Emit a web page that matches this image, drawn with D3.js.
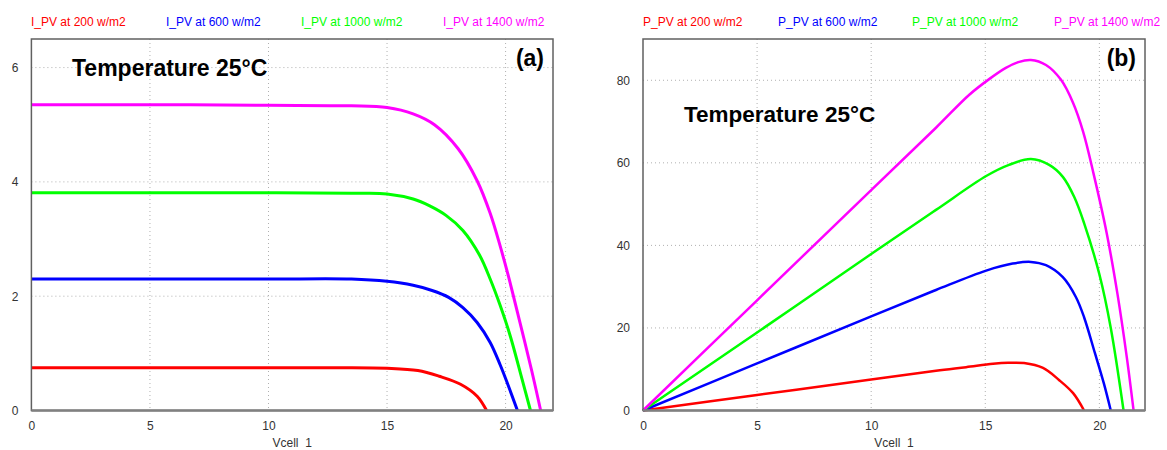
<!DOCTYPE html>
<html>
<head>
<meta charset="utf-8">
<script src="https://cdn.jsdelivr.net/npm/d3@7"></script>
<style>
  body { margin: 0; background: #fff; }
  text { font-family: "Liberation Sans", Arial, sans-serif; }
</style>
</head>
<body>
<div id="chart"></div>
<script>
// I-V curves (Vcell, I_PV)
var ivRed200 = [[0,0.75],[5,0.75],[10,0.75],[13,0.75],[15,0.74],[16.3,0.70],[17.2,0.60],[18.1,0.46],[18.8,0.25],[19.2,0]];
var ivBlue600 = [[0,2.30],[5,2.30],[10,2.30],[13.5,2.30],[15,2.26],[16.1,2.19],[16.9,2.10],[17.6,1.98],[18.2,1.80],[18.8,1.54],[19.35,1.19],[19.77,0.80],[20.1,0.45],[20.5,0]];
var ivGreen1000 = [[0,3.81],[5,3.81],[10,3.81],[13.5,3.80],[15,3.79],[16.1,3.70],[16.8,3.58],[17.5,3.41],[18.2,3.15],[18.9,2.72],[19.35,2.30],[19.77,1.84],[20.2,1.30],[20.7,0.54],[21.05,0]];
var ivMag1400 = [[0,5.35],[5,5.35],[10,5.34],[13.5,5.33],[15,5.30],[16.1,5.19],[17.0,5.0],[18.0,4.58],[18.8,4.02],[19.35,3.45],[19.77,2.88],[20.1,2.38],[20.6,1.55],[21.1,0.70],[21.48,0]];

// P-V curves (Vcell, P_PV)
var pvRed200 = [[0,0],[5,3.75],[10,7.5],[12.84,9.65],[14.16,10.5],[15.34,11.3],[16.0,11.55],[16.7,11.5],[17.53,10.3],[18.23,7.4],[18.85,4.2],[19.33,0]];
var pvBlue600 = [[0,0],[5,11.4],[10,22.8],[12.84,29.2],[15.04,33.9],[16.2,35.6],[17.0,36.0],[17.66,35.2],[18.4,32.3],[18.97,27.5],[19.33,22.6],[19.8,14],[20.2,6.5],[20.5,0]];
var pvGreen1000 = [[0,0],[5,18.9],[10,37.9],[12.84,48.6],[15.04,56.8],[16.04,59.5],[17.0,60.9],[17.8,59.5],[18.4,56.6],[18.9,51.7],[19.33,45.4],[20.0,33],[20.5,20],[21.06,0]];
var pvMag1400 = [[0,0],[5,26.7],[10,53.4],[12.84,68.5],[14.3,76.5],[15.2,80.4],[15.9,83.0],[16.45,84.4],[17.0,84.9],[17.66,83.7],[18.32,80.1],[18.85,74.5],[19.29,67.5],[19.74,57.5],[20.32,43],[20.8,28],[21.2,13],[21.5,0]];

var colors = ["#ff0000", "#0000ff", "#00ff00", "#ff00ff"];
var ivLabels = ["I_PV at 200 w/m2", "I_PV at 600 w/m2", "I_PV at 1000 w/m2", "I_PV at 1400 w/m2"];
var pvLabels = ["P_PV at 200 w/m2", "P_PV at 600 w/m2", "P_PV at 1000 w/m2", "P_PV at 1400 w/m2"];
var xTicks = [0, 5, 10, 15, 20];
var ivTicks = [0, 2, 4, 6];
var pvTicks = [0, 20, 40, 60, 80];

var svg = d3.select("#chart").append("svg")
    .attr("width", 1167)
    .attr("height", 450);

function panel(opt) {
  var x = d3.scaleLinear().domain([0, 22]).range([opt.left, opt.right]);
  var y = d3.scaleLinear().domain(opt.ydomain).range([410.5, 39]);
  var g = svg.append("g");

  // grid
  g.selectAll(".vg").data(xTicks.slice(1))
    .enter().append("line")
      .attr("x1", function(d) { return x(d); })
      .attr("x2", function(d) { return x(d); })
      .attr("y1", y.range()[1]).attr("y2", y.range()[0])
      .style("stroke", "#b0b0b0").style("stroke-dasharray", "1,3");
  g.selectAll(".hg").data(opt.yticks.slice(1))
    .enter().append("line")
      .attr("x1", opt.left).attr("x2", opt.right)
      .attr("y1", function(d) { return y(d); })
      .attr("y2", function(d) { return y(d); })
      .style("stroke", "#b0b0b0").style("stroke-dasharray", "1,3");

  // curves
  var line = d3.line()
      .x(function(d) { return x(d[0]); })
      .y(function(d) { return y(d[1]); })
      .curve(d3.curveCatmullRom.alpha(0.5));
  g.selectAll(".curve").data(opt.series)
    .enter().append("path")
      .attr("d", line)
      .style("fill", "none")
      .style("stroke", function(d, i) { return colors[i]; })
      .style("stroke-width", opt.lw);

  // frame
  g.append("rect")
      .attr("x", opt.left).attr("y", y.range()[1])
      .attr("width", opt.right - opt.left)
      .attr("height", y.range()[0] - y.range()[1])
      .style("fill", "none").style("stroke", "#606060").style("stroke-width", 1.5);
  g.append("line")
      .attr("x1", opt.left).attr("x2", opt.right)
      .attr("y1", 410.5).attr("y2", 410.5)
      .style("stroke", "#808080").style("stroke-width", 2.5);

  // axes
  var xa = g.append("g")
      .attr("transform", "translate(0,410.5)")
      .call(d3.axisBottom(x).tickValues(xTicks).tickSize(0).tickPadding(11).tickFormat(d3.format("d")));
  var ya = g.append("g")
      .attr("transform", "translate(" + opt.left + ",0)")
      .call(d3.axisLeft(y).tickValues(opt.yticks).tickSize(0).tickPadding(13).tickFormat(d3.format("d")));
  [xa, ya].forEach(function(a) {
    a.select(".domain").remove();
    a.selectAll("text").style("font-size", "12px").style("fill", "#333")
      .style("font-family", "'Liberation Sans', Arial, sans-serif");
  });

  g.append("text")
      .attr("x", (opt.left + opt.right) / 2).attr("y", 447)
      .style("text-anchor", "middle").style("font-size", "12px").style("fill", "#333")
      .text("Vcell\u00a0\u00a01");

  // legend
  g.selectAll(".leg").data(opt.labels)
    .enter().append("text")
      .attr("x", function(d, i) { return opt.legx[i]; })
      .attr("y", 26)
      .style("font-size", "12px")
      .style("fill", function(d, i) { return colors[i]; })
      .text(function(d) { return d; });

  g.append("text")
      .attr("x", opt.tx).attr("y", opt.ty)
      .style("font-size", opt.tsize).style("font-weight", "bold")
      .text("Temperature 25°C");
  g.append("text")
      .attr("x", opt.right - 9).attr("y", 66)
      .style("text-anchor", "end").style("font-size", "23px").style("font-weight", "bold")
      .text(opt.tag);
}

panel({
  left: 31.4, right: 553, ydomain: [0, 6.5], yticks: ivTicks, lw: 3,
  series: [ivRed200, ivBlue600, ivGreen1000, ivMag1400],
  labels: ivLabels, legx: [31, 166, 301, 443],
  tx: 72, ty: 76, tsize: "23px", tag: "(a)"
});

panel({
  left: 643, right: 1145, ydomain: [0, 90], yticks: pvTicks, lw: 2.5,
  series: [pvRed200, pvBlue600, pvGreen1000, pvMag1400],
  labels: pvLabels, legx: [643, 778, 912, 1054],
  tx: 684, ty: 122, tsize: "22.5px", tag: "(b)"
});
</script>
</body>
</html>
